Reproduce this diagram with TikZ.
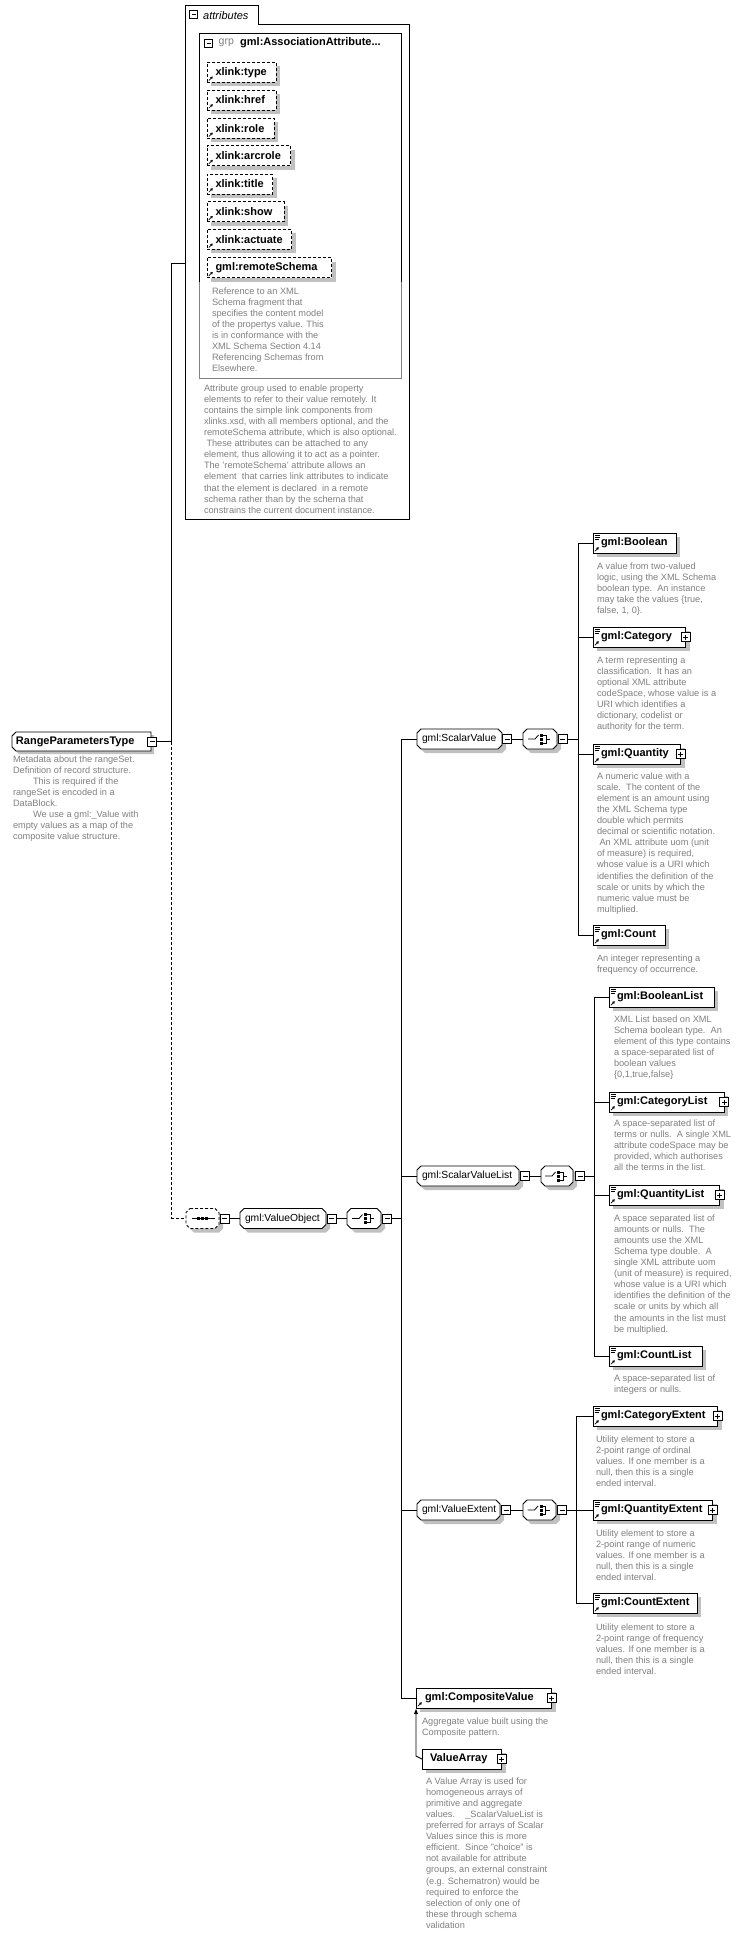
\documentclass[tikz,border=0pt]{standalone}
\usepackage{fontspec}
\setmainfont{Liberation Sans}
\usetikzlibrary{shadows,arrows.meta,calc}
\pgfdeclarelayer{bg}
\pgfsetlayers{bg,main}
\definecolor{shadowc}{RGB}{192,192,192}
\definecolor{desc}{RGB}{128,128,128}
\definecolor{grpline}{RGB}{130,130,130}

\newcommand\octpath[4]{([shift={({#2+#4},{#3})}]#1.north west) -- ([shift={({#2-#4},{#3})}]#1.north east) -- ([shift={({#2},{#3-#4})}]#1.north east) -- ([shift={({#2},{#3+#4})}]#1.south east) -- ([shift={({#2-#4},{#3})}]#1.south east) -- ([shift={({#2+#4},{#3})}]#1.south west) -- ([shift={({#2},{#3+#4})}]#1.south west) -- ([shift={({#2},{#3-#4})}]#1.north west) -- cycle}
\newcommand\lchampath[4]{([shift={({#2+#4},{#3})}]#1.north west) -- ([shift={({#2},{#3})}]#1.north east) -- ([shift={({#2},{#3})}]#1.south east) -- ([shift={({#2+#4},{#3})}]#1.south west) -- ([shift={({#2},{#3+#4})}]#1.south west) -- ([shift={({#2},{#3-#4})}]#1.north west) -- cycle}
\newcommand\octframe[2][]{%
  \begin{pgfonlayer}{bg}
    \fill[shadowc] \octpath{#2}{4}{-4}{4};
    \draw[fill=white,line width=0.9pt,#1] \octpath{#2}{0}{0}{4};
  \end{pgfonlayer}}
\newcommand\lchamframe[1]{%
  \begin{pgfonlayer}{bg}
    \fill[shadowc] \lchampath{#1}{3}{-3}{4};
    \draw[fill=white,line width=0.9pt] \lchampath{#1}{0}{0}{4};
  \end{pgfonlayer}}
\newcommand\choiceicon[1]{%
  \draw[line width=0.8pt] ([shift={(-12,0)}]#1.center) -- ([shift={(-5,0)}]#1.center) -- ([shift={(-1.5,4)}]#1.center);
  \fill ([shift={(0,2.5)}]#1.center) rectangle ([shift={(3,5.5)}]#1.center);
  \fill ([shift={(0,-1.5)}]#1.center) rectangle ([shift={(3,1.5)}]#1.center);
  \fill ([shift={(0,-5.5)}]#1.center) rectangle ([shift={(3,-2.5)}]#1.center);
  \draw[line width=0.8pt] ([shift={(3,4)}]#1.center) -- ([shift={(6,4)}]#1.center) -- ([shift={(6,-4)}]#1.center) -- ([shift={(3,-4)}]#1.center);
  \draw[line width=0.8pt] ([shift={(6,0)}]#1.center) -- ([shift={(10,0)}]#1.center);}
\newcommand\seqicon[1]{%
  \draw[line width=0.8pt] ([shift={(-11,0)}]#1.center) -- ([shift={(12,0)}]#1.center);
  \foreach \dx in {-4,0,4}{\fill ([shift={(\dx-1.5,-1.5)}]#1.center) rectangle ([shift={(\dx+1.5,1.5)}]#1.center);}}

\tikzset{
  conn/.style={line width=0.9pt},
  pmbox/.style={rectangle, draw, fill=white, minimum size=9pt, inner sep=0pt, outer sep=0pt, line width=0.8pt},
  minusbox/.style={pmbox, path picture={\draw[line width=0.8pt] ([xshift=2pt]path picture bounding box.west) -- ([xshift=-2pt]path picture bounding box.east);}},
  plusbox/.style={pmbox, path picture={\draw[line width=0.8pt] ([xshift=2pt]path picture bounding box.west) -- ([xshift=-2pt]path picture bounding box.east) ([yshift=-2pt]path picture bounding box.north) -- ([yshift=2pt]path picture bounding box.south);}},
  boxbase/.style={rectangle, draw, fill=white, line width=0.9pt, minimum height=20pt, inner ysep=0pt, inner xsep=8pt, outer sep=0pt, anchor=west, align=left, font=\bfseries\fontsize{11}{13}\selectfont, general shadow={fill=shadowc, shadow xshift=4pt, shadow yshift=-4pt}},
  simp/.style={boxbase, path picture={
     \draw[line width=0.6pt,solid] ([shift={(1.5,-2)}]path picture bounding box.north west) -- ++(5,0)
        ([shift={(1.5,-4)}]path picture bounding box.north west) -- ++(5,0)
        ([shift={(1.5,-6)}]path picture bounding box.north west) -- ++(4,0);
     \draw[line width=0.7pt,solid,-{Triangle[length=2.4pt,width=2.6pt]}] ([shift={(1.8,1.8)}]path picture bounding box.south west) -- ++(4,4);}},
  cplx/.style={boxbase, path picture={
     \draw[line width=0.7pt,solid,-{Triangle[length=2.4pt,width=2.6pt]}] ([shift={(1.8,1.8)}]path picture bounding box.south west) -- ++(4,4);}},
  glob/.style={boxbase},
  attrbox/.style={boxbase, dash pattern=on 3pt off 2pt, inner xsep=8.5pt, path picture={
     \draw[line width=0.7pt,solid,-{Triangle[length=2.4pt,width=2.6pt]}] ([shift={(1.8,1.8)}]path picture bounding box.south west) -- ++(4,4);}},
  grpbox/.style={rectangle, draw=none, minimum height=20pt, inner xsep=5pt, inner ysep=0pt, outer sep=0pt, anchor=west, align=left, font=\fontsize{10.3}{12}\selectfont},
  dsc/.style={anchor=north west, align=left, inner sep=0pt, outer sep=0pt, text=desc, font=\fontsize{9.2}{11.1}\selectfont},
}

\begin{document}
\begin{tikzpicture}[x=1pt,y=1pt]
\useasboundingbox (0,0) rectangle (744,-1935);
\begin{pgfonlayer}{bg}
  \fill[white] (0,0) rectangle (744,-1935);
\end{pgfonlayer}

%%% attributes frame
\draw[line width=0.9pt] (185,-5) -- (258,-5) -- (258,-24) -- (409,-24) -- (409,-519) -- (185,-519) -- cycle;
\coordinate (attrin) at (185,-263);
\node[minusbox, minimum size=8pt] (attm) at (193.5,-14.5) {};
\node[anchor=west, inner sep=0pt, font=\itshape\fontsize{11}{13}\selectfont] (attl) at (203,-15.5) {attributes};

%%% attribute group box
\draw[line width=0.9pt, grpline] (199,-282) -- (199,-378) -- (401,-378) -- (401,-282);
\draw[line width=0.9pt] (199,-282) -- (199,-33) -- (401,-33) -- (401,-282);
\node[minusbox, minimum size=8pt] (grpm) at (208.5,-43) {};
\node[anchor=west, inner sep=0pt, text=desc, font=\fontsize{10.5}{12}\selectfont] (grpk) at (218.5,-43) {grp};
\node[anchor=west, inner sep=0pt, font=\bfseries\fontsize{11}{13}\selectfont] (grpn) at (240,-43) {gml:AssociationAttribute...};

\node[attrbox, text width=52pt] (a1) at (207,-72.3) {xlink:type};
\node[attrbox, text width=52pt] (a2) at (207,-100) {xlink:href};
\node[attrbox, text width=50pt] (a3) at (207,-128.3) {xlink:role};
\node[attrbox, text width=66.7pt] (a4) at (207,-155.7) {xlink:arcrole};
\node[attrbox, text width=48.7pt] (a5) at (207,-184) {xlink:title};
\node[attrbox, text width=60pt] (a6) at (207,-211.7) {xlink:show};
\node[attrbox, text width=67.7pt] (a7) at (207,-239.3) {xlink:actuate};
\node[attrbox, text width=107.7pt] (a8) at (207,-267.7) {gml:remoteSchema};

\node[dsc] (a8d) at (212,-287.5) {Reference to an XML\\Schema fragment that\\specifies the content model\\of the propertys value. This\\is in conformance with the\\XML Schema Section 4.14\\Referencing Schemas from\\Elsewhere.};
\node[dsc] (grpd) at (204,-384.5) {Attribute group used to enable property\\elements to refer to their value remotely. It\\contains the simple link components from\\xlinks.xsd, with all members optional, and the\\remoteSchema attribute, which is also optional.\\\hspace*{2.5pt}These attributes can be attached to any\\element, thus allowing it to act as a pointer.\\The 'remoteSchema' attribute allows an\\element\ \ that carries link attributes to indicate\\that the element is declared\ \ in a remote\\schema rather than by the schema that\\constrains the current document instance.};

%%% RangeParametersType
\node[grpbox, inner xsep=4pt, minimum height=19pt, text width=131pt, font=\bfseries\fontsize{11}{13}\selectfont] (rpt) at (12,-741.5) {RangeParametersType};
\lchamframe{rpt}
\node[minusbox] (rptm) at (152,-741.5) {};
\node[dsc] (rptd) at (13,-755.5) {Metadata about the rangeSet.\\Definition of record structure.\\\hspace*{20pt}This is required if the\\rangeSet is encoded in a\\DataBlock.\\\hspace*{20pt}We use a gml:\_Value with\\empty values as a map of the\\composite value structure.};

\coordinate (rptj) at (171,-741.5);
\coordinate (seqj) at (171,-1218.5);
\draw[conn] (rptm.east) -- (rptj);
\draw[conn] (rptj) -- (171,-263) -- (attrin);
\draw[conn, dash pattern=on 3pt off 2pt] (rptj) -- (seqj);

%%% sequence and ValueObject
\node[grpbox, minimum width=33pt] (seq) at (186,-1218.5) {};
\octframe[dash pattern=on 3pt off 2pt]{seq}
\seqicon{seq}
\node[minusbox] (seqm) at (224.7,-1218.5) {};
\draw[conn, dash pattern=on 3pt off 2pt] (seqj) -- (seq.west);

\node[grpbox, text width=76pt] (vo) at (240,-1218.5) {gml:ValueObject};
\octframe{vo}
\node[minusbox] (vom) at (331.7,-1218.5) {};
\node[grpbox, minimum width=34pt] (voc) at (347,-1218.5) {};
\octframe{voc}
\choiceicon{voc}
\node[minusbox] (vocm) at (387.3,-1218.5) {};
\coordinate (mainj) at (401,-1218.5);
\draw[conn] (seqm.east) -- (vo.west);
\draw[conn] (vom.east) -- (voc.west);
\draw[conn] (vocm.east) -- (mainj);

%%% ScalarValue
\node[grpbox, text width=75pt] (sv) at (417,-739) {gml:ScalarValue};
\octframe{sv}
\node[minusbox] (svm) at (507,-739) {};
\node[grpbox, minimum width=34pt] (svc) at (523,-739) {};
\octframe{svc}
\choiceicon{svc}
\node[minusbox] (svcm) at (562.5,-739) {};
\coordinate (svj) at (578,-739);
\draw[conn] (svm.east) -- (svc.west);
\draw[conn] (svcm.east) -- (svj);

\node[simp, text width=67pt] (boolean) at (593,-543) {gml:Boolean};
\node[simp, text width=76.5pt] (category) at (593,-637) {gml:Category};
\node[plusbox] (categoryp) at (685.5,-637) {};
\node[simp, text width=71.5pt] (quantity) at (593,-754) {gml:Quantity};
\node[plusbox] (quantityp) at (680.5,-754) {};
\node[simp, text width=56pt] (count) at (593,-935) {gml:Count};
\draw[conn] (boolean.west) -- ++(-15,0) |- (count.west);
\draw[conn] (category.west) -- ++(-15,0);
\draw[conn] (quantity.west) -- ++(-15,0);

\node[dsc] (booleand) at (597,-562.5) {A value from two-valued\\logic, using the XML Schema\\boolean type.\ \ An instance\\may take the values \{true,\\false, 1, 0\}.};
\node[dsc] (categoryd) at (597,-656.5) {A term representing a\\classification.\ \ It has an\\optional XML attribute\\codeSpace, whose value is a\\URI which identifies a\\dictionary, codelist or\\authority for the term.};
\node[dsc] (quantityd) at (597,-772.5) {A numeric value with a\\scale.\ \ The content of the\\element is an amount using\\the XML Schema type\\double which permits\\decimal or scientific notation.\\\hspace*{2.5pt}An XML attribute uom (unit\\of measure) is required,\\whose value is a URI which\\identifies the definition of the\\scale or units by which the\\numeric value must be\\multiplied.};
\node[dsc] (countd) at (597,-954.5) {An integer representing a\\frequency of occurrence.};

%%% ScalarValueList
\node[grpbox, text width=92pt] (svl) at (417,-1176) {gml:ScalarValueList};
\octframe{svl}
\node[minusbox] (svlm) at (525,-1176) {};
\node[grpbox, minimum width=32pt] (svlc) at (541,-1176) {};
\octframe{svlc}
\choiceicon{svlc}
\node[minusbox] (svlcm) at (580,-1176) {};
\coordinate (svlj) at (594,-1176);
\draw[conn] (svlm.east) -- (svlc.west);
\draw[conn] (svlcm.east) -- (svlj);

\node[simp, text width=89pt] (boollist) at (609,-997) {gml:BooleanList};
\node[simp, text width=99pt] (catlist) at (609,-1102) {gml:CategoryList};
\node[plusbox] (catlistp) at (724,-1102) {};
\node[simp, text width=94.5pt] (qlist) at (609,-1195) {gml:QuantityList};
\node[plusbox] (qlistp) at (719.5,-1195) {};
\node[simp, text width=77pt] (clist) at (609,-1356) {gml:CountList};
\draw[conn] (boollist.west) -- ++(-15,0) |- (clist.west);
\draw[conn] (catlist.west) -- ++(-15,0);
\draw[conn] (qlist.west) -- ++(-15,0);

\node[dsc] (boollistd) at (614,-1015.5) {XML List based on XML\\Schema boolean type.\ \ An\\element of this type contains\\a space-separated list of\\boolean values\\\{0,1,true,false\}};
\node[dsc] (catlistd) at (614,-1119.5) {A space-separated list of\\terms or nulls.\ \ A single XML\\attribute codeSpace may be\\provided, which authorises\\all the terms in the list.};
\node[dsc] (qlistd) at (614,-1214.5) {A space separated list of\\amounts or nulls.\ \ The\\amounts use the XML\\Schema type double.\ \ A\\single XML attribute uom\\(unit of measure) is required,\\whose value is a URI which\\identifies the definition of the\\scale or units by which all\\the amounts in the list must\\be multiplied.};
\node[dsc] (clistd) at (614,-1374.5) {A space-separated list of\\integers or nulls.};

%%% ValueExtent
\node[grpbox, text width=73pt] (ve) at (417,-1510) {gml:ValueExtent};
\octframe{ve}
\node[minusbox] (vem) at (506,-1510) {};
\node[grpbox, minimum width=33pt] (vec) at (523,-1510) {};
\octframe{vec}
\choiceicon{vec}
\node[minusbox] (vecm) at (562.3,-1510) {};
\draw[conn] (vem.east) -- (vec.west);

\node[simp, text width=108.5pt] (catext) at (593,-1416) {gml:CategoryExtent};
\node[plusbox] (catextp) at (717.5,-1416) {};
\node[simp, text width=103.5pt] (qext) at (593,-1510) {gml:QuantityExtent};
\node[plusbox] (qextp) at (712.5,-1510) {};
\node[simp, text width=88pt] (cext) at (593,-1603) {gml:CountExtent};
\draw[conn] (catext.west) -- ++(-17,0) |- (cext.west);
\draw[conn] (vecm.east) -- (qext.west);

\node[dsc] (catextd) at (596,-1435.5) {Utility element to store a\\2-point range of ordinal\\values. If one member is a\\null, then this is a single\\ended interval.};
\node[dsc] (qextd) at (596,-1529.5) {Utility element to store a\\2-point range of numeric\\values. If one member is a\\null, then this is a single\\ended interval.};
\node[dsc] (cextd) at (596,-1623.5) {Utility element to store a\\2-point range of frequency\\values. If one member is a\\null, then this is a single\\ended interval.};

%%% CompositeValue and ValueArray
\node[cplx, inner xsep=9pt, text width=117.5pt] (cv) at (416,-1698) {gml:CompositeValue};
\node[plusbox] (cvp) at (551.5,-1698) {};
\node[glob, text width=63.5pt] (va) at (422,-1759) {ValueArray};
\node[plusbox] (vap) at (501.5,-1759) {};
\draw[conn, -{Triangle[length=5pt,width=4pt]}] (va.west) -- ++(-6,3) -- ([yshift=-1pt]cv.south west);

\node[dsc] (cvd) at (422,-1717.5) {Aggregate value built using the\\Composite pattern.};
\node[dsc] (vad) at (426,-1777.5) {A Value Array is used for\\homogeneous arrays of\\primitive and aggregate\\values.\ \ \ \ \_ScalarValueList is\\preferred for arrays of Scalar\\Values since this is more\\efficient.\ \ Since "choice" is\\not available for attribute\\groups, an external constraint\\(e.g. Schematron) would be\\required to enforce the\\selection of only one of\\these through schema\\validation};

%%% main bus
\draw[conn] (sv.west) -- ++(-16,0) |- (cv.west);
\draw[conn] (svl.west) -- ++(-16,0);
\draw[conn] (ve.west) -- ++(-16,0);
\end{tikzpicture}
\end{document}
